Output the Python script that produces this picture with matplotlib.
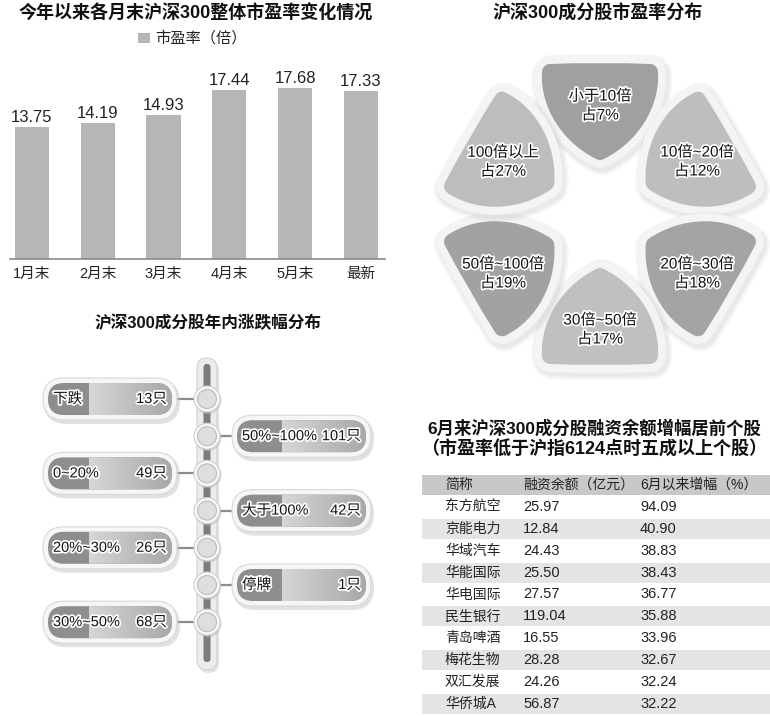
import numpy as np
import matplotlib
matplotlib.use("Agg")
import matplotlib.pyplot as plt
from matplotlib.path import Path
from matplotlib.patches import PathPatch, FancyBboxPatch, Rectangle, Circle
from matplotlib.colors import LinearSegmentedColormap
import matplotlib.patheffects as pe

plt.rcParams['font.family'] = ['Liberation Sans', 'Noto Sans CJK SC']

# ---- data ----
months = ['1月末', '2月末', '3月末', '4月末', '5月末', '最新']
pe_ratio = [13.75, 14.19, 14.93, 17.44, 17.68, 17.33]

pe_bins = ['小于10倍', '10倍~20倍', '20倍~30倍', '30倍~50倍', '50倍~100倍', '100倍以上']
pe_share = [7, 12, 18, 17, 19, 27]

move_bins = ['下跌', '50%~100%', '0~20%', '大于100%', '20%~30%', '停牌', '30%~50%']
move_count = [13, 101, 49, 42, 26, 1, 68]

stock_names = ['东方航空', '京能电力', '华域汽车', '华能国际', '华电国际',
               '民生银行', '青岛啤酒', '梅花生物', '双汇发展', '华侨城A']
margin_balance = [25.97, 12.84, 24.43, 25.50, 27.57, 119.04, 16.55, 28.28, 24.26, 56.87]
margin_growth = [94.09, 40.90, 38.83, 38.43, 36.77, 35.88, 33.96, 32.67, 32.24, 32.22]

PX = 0.72  # points per pixel at dpi 100
BAR_C = '#b6b6b6'
halo = [pe.withStroke(linewidth=2.5, foreground='white')]

fig = plt.figure(figsize=(7.7, 7.16), dpi=100)
bg = fig.add_axes([0, 0, 1, 1])
bg.axis('off')

# ---- panel 1: bar chart ----
ax = fig.add_axes([10 / 770, (716 - 259) / 716, 375 / 770, (259 - 40) / 716])
ax.patch.set_alpha(0)
x = np.arange(len(months))
ax.bar(x, pe_ratio, width=0.52, color=BAR_C)
for xi, v in zip(x, pe_ratio):
    ax.annotate(f'{v:.2f}', (xi, v), xytext=(0, 1.5), textcoords='offset points',
                ha='center', va='bottom', fontsize=12, color='#222')
ax.set_xlim(-0.334, 5.365)
ax.set_ylim(0.7, 22.4)
ax.set_xticks(x, months, fontsize=10.5, color='#222')
ax.tick_params(axis='x', length=0, pad=6)
ax.set_yticks([])
for s in ['top', 'right', 'left']:
    ax.spines[s].set_visible(False)
ax.spines['bottom'].set_color('#8a8a8a')
ax.spines['bottom'].set_linewidth(1.2)

bg.text(196, 14, '今年以来各月末沪深300整体市盈率变化情况', ha='center', va='center',
        fontsize=13, fontweight='heavy', color='#111')
bg.add_patch(Rectangle((138, 33), 12, 10, fc=BAR_C, ec='none'))
bg.text(155, 38, '市盈率（倍）', ha='left', va='center', fontsize=11, color='#222')

# ---- panel 2: PE distribution petals ----
bg.text(598, 14, '沪深300成分股市盈率分布', ha='center', va='center',
        fontsize=13, fontweight='heavy', color='#111')

cx, cy = 600, 214
angles = [90, 30, -30, -90, -150, 150]
petal_cols = ['#a0a0a0', '#bebebe', '#a4a4a4', '#c0c0c0', '#a2a2a2', '#bdbdbd']
# shield shaped petal: tip toward the centre, bulging sides, flat outer edge
local = [(62, 0), (78, 32), (110, 52), (142, 50), (144, 0), (142, -50),
         (110, -52), (78, -32), (62, 0), (62, 0)]
codes = ([Path.MOVETO] + [Path.CURVE4] * 3 + [Path.CURVE3] * 2 +
         [Path.CURVE4] * 3 + [Path.CLOSEPOLY])


def petal_path(ox, oy, ang):
    a = np.radians(ang)
    d = np.array([np.cos(a), -np.sin(a)])
    p = np.array([np.sin(a), np.cos(a)])
    verts = [(ox + u * d[0] + v * p[0], oy + u * d[1] + v * p[1]) for u, v in local]
    return Path(verts, codes)


for i, (ang, lab, share) in enumerate(zip(angles, pe_bins, pe_share)):
    for lw, col, al in [(40, '#7a7a7a', 0.07), (35, '#9a9a9a', 0.12)]:
        bg.add_patch(PathPatch(petal_path(cx + 2, cy + 3, ang), fc=col, ec=col,
                               lw=lw * PX, alpha=al, joinstyle='round'))
    bg.add_patch(PathPatch(petal_path(cx, cy, ang), fc='#f4f4f4', ec='#f4f4f4',
                           lw=32 * PX, joinstyle='round'))
    c = petal_cols[i]
    bg.add_patch(PathPatch(petal_path(cx, cy, ang), fc=c, ec=c,
                           lw=16 * PX, joinstyle='round'))
    a = np.radians(ang)
    tx, ty = cx + 112 * np.cos(a), 218 - 112 * np.sin(a)
    bg.text(tx, ty, f'{lab}\n占{share}%', ha='center', va='center', fontsize=11,
            color='#111', linespacing=1.45, path_effects=halo)

# ---- panel 3: timeline of price moves ----
bg.text(208, 323, '沪深300成分股年内涨跌幅分布', ha='center', va='center',
        fontsize=12, fontweight='heavy', color='#111')

rod_x = 207
bg.add_patch(FancyBboxPatch((rod_x - 10 + 2, 358 + 3), 20, 312, boxstyle='round,pad=0,rounding_size=10',
                            fc='#c8c8c8', ec='none', alpha=0.5))
bg.add_patch(FancyBboxPatch((rod_x - 10, 358), 20, 312, boxstyle='round,pad=0,rounding_size=10',
                            fc='#ececec', ec='#d2d2d2', lw=0.8))
bg.add_patch(FancyBboxPatch((rod_x - 3.5, 364), 7, 298, boxstyle='round,pad=0,rounding_size=3.5',
                            fc='#7c7c7c', ec='none'))

grad_cmap = LinearSegmentedColormap.from_list('pill', ['#d6d6d6', '#a8a8a8'])
grad = np.linspace(0, 1, 64).reshape(1, -1)
ph = 32
for i, (lab, n) in enumerate(zip(move_bins, move_count)):
    yc = 399 + i * 37.2
    left = i % 2 == 0
    if left:
        x0, x1, xs = 48, 172, 89
    else:
        x0, x1, xs = 237, 366, 282
    r = ph / 2
    # connector
    if left:
        bg.plot([x1 + 5, rod_x - 12], [yc, yc], color='#8c8c8c', lw=1.6, zorder=2)
    else:
        bg.plot([rod_x + 12, x0 - 5], [yc, yc], color='#8c8c8c', lw=1.6, zorder=2)
    # pill
    bg.add_patch(FancyBboxPatch((x0 - 6 + 2, yc - r - 6 + 3), x1 - x0 + 12, ph + 12,
                                boxstyle=f'round,pad=0,rounding_size={r + 6}',
                                fc='#bdbdbd', ec='none', alpha=0.45, zorder=3))
    bg.add_patch(FancyBboxPatch((x0 - 5, yc - r - 5), x1 - x0 + 10, ph + 10,
                                boxstyle=f'round,pad=0,rounding_size={r + 5}',
                                fc='#f6f6f6', ec='#d8d8d8', lw=0.8, zorder=3))
    body = FancyBboxPatch((x0, yc - r), x1 - x0, ph, boxstyle=f'round,pad=0,rounding_size={r}',
                          fc='#8e8e8e', ec='none', zorder=4)
    bg.add_patch(body)
    im = bg.imshow(grad, cmap=grad_cmap, extent=(xs, x1, yc + r, yc - r),
                   aspect='auto', zorder=4.5, interpolation='bilinear')
    im.set_clip_path(body)
    bg.text(x0 + 5, yc, lab, ha='left', va='center', fontsize=10.5, color='#111',
            path_effects=halo, zorder=6)
    bg.text(x1 - 5, yc, f'{n}只', ha='right', va='center', fontsize=10.5, color='#111',
            path_effects=halo, zorder=6)
    # knob on the rod
    bg.add_patch(Circle((rod_x + 1, yc + 1.5), 13.5, fc='#b8b8b8', ec='none', alpha=0.5, zorder=5))
    bg.add_patch(Circle((rod_x, yc), 13, fc='#f8f8f8', ec='#cfcfcf', lw=0.8, zorder=5))
    bg.add_patch(Circle((rod_x, yc), 9.5, fc='#dedede', ec='#bcbcbc', lw=0.8, zorder=5))

# ---- panel 4: margin table ----
bg.text(594, 428, '6月来沪深300成分股融资余额增幅居前个股', ha='center', va='center',
        fontsize=12.5, fontweight='heavy', color='#111')
bg.text(594, 450, '（市盈率低于沪指6124点时五成以上个股）', ha='center', va='center',
        fontsize=13, fontweight='heavy', color='#111')

row_h = 21.9
top = 485
bg.add_patch(Rectangle((422, top - 10), 348, 20, fc='#c8c8c8', ec='none'))
col_x = [445, 523, 640]
for cx_, h in zip(col_x, ['简称', '融资余额（亿元）', '6月以来增幅（%）']):
    bg.text(cx_, top, h, ha='left', va='center', fontsize=10, color='#222')
for i, (nm, bal, gr) in enumerate(zip(stock_names, margin_balance, margin_growth)):
    yc = top + (i + 1) * row_h
    if i % 2 == 1:
        bg.add_patch(Rectangle((422, yc - 10), 348, 20, fc='#e4e4e4', ec='none'))
    bg.text(col_x[0], yc, nm, ha='left', va='center', fontsize=10, color='#222')
    bg.text(col_x[1], yc, f'{bal:.2f}', ha='left', va='center', fontsize=10.5, color='#222')
    bg.text(col_x[2], yc, f'{gr:.2f}', ha='left', va='center', fontsize=10.5, color='#222')

bg.set_xlim(0, 770)
bg.set_ylim(716, 0)
fig.savefig('out.png', dpi=100, facecolor='white')
